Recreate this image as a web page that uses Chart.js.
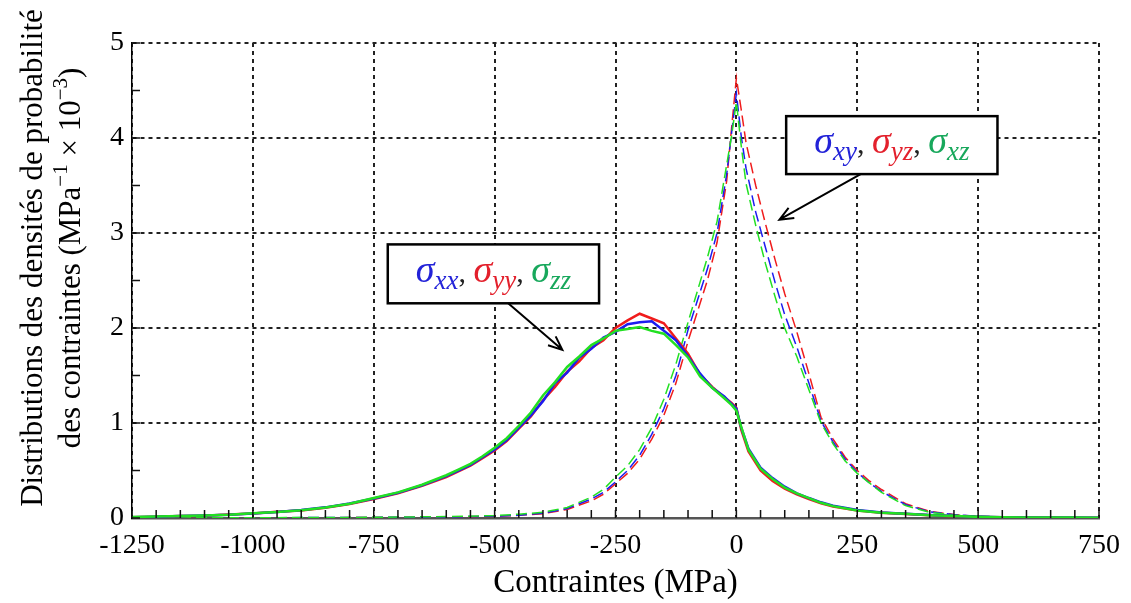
<!DOCTYPE html>
<html>
<head>
<meta charset="utf-8">
<script src="https://cdn.jsdelivr.net/npm/chart.js@4.4.1/dist/chart.umd.min.js"></script>
<style>
html, body { margin: 0; padding: 0; background: #fff; }
#wrap { width: 1131px; height: 603px; }
</style>
</head>
<body>
<div id="wrap"><canvas id="ourChart" width="1131" height="603"></canvas></div>
<script>
// contraintes normales (MPa) et densités (MPa^-1 x 10^-3)
const normalX = [-1250, -1200, -1150, -1100, -1050, -1000, -950, -900, -850, -800, -750, -700, -650, -600,
    -575, -550, -525, -500, -475, -450, -425, -400, -375, -350, -325, -300, -275, -250, -225, -200, -175, -150, -125, -100, -75, -50, -25,
    -10, 0, 10, 25, 50, 75, 100, 125, 150, 175, 200,
    250, 300, 350, 400, 450, 500, 550, 600, 650, 700, 750];
const sxx = [0.009, 0.014, 0.021, 0.026, 0.033, 0.048, 0.064, 0.084, 0.112, 0.152, 0.205, 0.265, 0.345, 0.44,
    0.5, 0.56, 0.64, 0.72, 0.82, 0.95, 1.08, 1.23, 1.42, 1.53, 1.69, 1.78, 1.9, 1.96, 2.04, 2.06, 2.07, 1.97, 1.87, 1.7, 1.52, 1.37, 1.28,
    1.2, 1.15, 0.95, 0.73, 0.53, 0.42, 0.33, 0.26, 0.21, 0.165, 0.13,
    0.085, 0.058, 0.046, 0.032, 0.021, 0.013, 0.009, 0.006, 0.005, 0.004, 0.003];
const syy = [0.008, 0.012, 0.02, 0.024, 0.036, 0.047, 0.066, 0.08, 0.108, 0.148, 0.2, 0.26, 0.34, 0.43,
    0.49, 0.55, 0.63, 0.71, 0.81, 0.94, 1.07, 1.24, 1.38, 1.54, 1.65, 1.79, 1.87, 2.0, 2.08, 2.15, 2.1, 2.05, 1.89, 1.73, 1.51, 1.38, 1.27,
    1.21, 1.16, 0.93, 0.7, 0.5, 0.39, 0.31, 0.25, 0.2, 0.155, 0.12,
    0.078, 0.054, 0.042, 0.029, 0.019, 0.011, 0.007, 0.005, 0.004, 0.003, 0.002];
const szz = [0.01, 0.016, 0.02, 0.027, 0.034, 0.05, 0.063, 0.082, 0.11, 0.15, 0.21, 0.27, 0.35, 0.45,
    0.51, 0.57, 0.65, 0.74, 0.84, 0.97, 1.11, 1.29, 1.43, 1.59, 1.7, 1.82, 1.89, 1.97, 1.99, 2.01, 1.97, 1.94, 1.82, 1.69, 1.49, 1.37, 1.26,
    1.19, 1.13, 0.96, 0.72, 0.52, 0.41, 0.32, 0.26, 0.21, 0.16, 0.125,
    0.08, 0.056, 0.044, 0.03, 0.02, 0.012, 0.008, 0.006, 0.005, 0.004, 0.003];

// contraintes de cisaillement
const shearX = [-1250, -1000, -800, -700, -600, -500, -450, -400, -350, -300, -275, -250, -225, -200,
    -175, -150, -125, -100, -80, -60, -40, -20, -10, 0,
    10, 20, 40, 60, 80, 100, 125, 150, 175, 200, 225, 250, 275, 300, 350, 400, 450, 500, 600, 750];
const sxy = [0, 0.003, 0.005, 0.008, 0.01, 0.02, 0.03, 0.05, 0.1, 0.2, 0.27, 0.38, 0.5, 0.66,
    0.88, 1.15, 1.5, 1.98, 2.3, 2.62, 3.0, 3.62, 4.05, 4.47,
    4.02, 3.68, 3.22, 2.85, 2.48, 2.14, 1.8, 1.42, 1.02, 0.8, 0.62, 0.48, 0.37, 0.28, 0.14, 0.065, 0.035, 0.018, 0.006, 0];
const syz = [0, 0.002, 0.004, 0.006, 0.01, 0.018, 0.028, 0.045, 0.09, 0.18, 0.25, 0.36, 0.47, 0.62,
    0.83, 1.08, 1.42, 1.86, 2.18, 2.5, 2.9, 3.55, 4.1, 4.63,
    4.3, 3.95, 3.5, 3.1, 2.72, 2.36, 1.96, 1.52, 1.06, 0.83, 0.64, 0.5, 0.39, 0.3, 0.15, 0.07, 0.036, 0.016, 0.005, 0];
const sxz = [0, 0.003, 0.006, 0.01, 0.015, 0.025, 0.04, 0.06, 0.11, 0.22, 0.3, 0.43, 0.55, 0.72,
    0.95, 1.25, 1.62, 2.06, 2.4, 2.74, 3.12, 3.72, 4.02, 4.38,
    3.92, 3.52, 3.08, 2.68, 2.33, 2.0, 1.7, 1.35, 1.0, 0.78, 0.6, 0.47, 0.37, 0.27, 0.13, 0.06, 0.03, 0.015, 0.005, 0];

const blue = '#1c1cf0';
const red = '#f01c1c';
const green = '#22e022';
const serif = "'Liberation Serif', 'Times New Roman', serif";

// étiquettes encadrées (coordonnées en unités des axes)
const labelBoxes = [
    { x0: -721, x1: -284, y0: 2.88, y1: 2.26, from: [-472, 2.26], to: [-360, 1.77],
      parts: [['xx', '#2323d8'], ['yy', '#e3202c'], ['zz', '#18a85c']] },
    { x0: 103, x1: 540, y0: 4.23, y1: 3.62, from: [257, 3.62], to: [89, 3.14],
      parts: [['xy', '#2323d8'], ['yz', '#e3202c'], ['xz', '#18a85c']] }
];

function pts(xs, ys) {
    return xs.map((x, i) => ({x: x, y: ys[i]}));
}

function drawRich(ctx, segs, cx, cy) {
    // segs: [texte, police, couleur, décalage vertical]
    let total = 0;
    segs.forEach(s => { ctx.font = s[1]; total += ctx.measureText(s[0]).width; });
    let x = cx - total / 2;
    segs.forEach(s => {
        ctx.font = s[1];
        ctx.fillStyle = s[2];
        ctx.fillText(s[0], x, cy + s[3]);
        x += ctx.measureText(s[0]).width;
    });
}

const decorPlugin = {
    id: 'decor',
    afterDraw(chart) {
        const ctx = chart.ctx;
        const xs = chart.scales.x, ys = chart.scales.y;
        const area = chart.chartArea;
        ctx.save();

        // petites graduations vers l'intérieur
        ctx.strokeStyle = '#111';
        ctx.lineWidth = 1.5;
        ctx.beginPath();
        xs.ticks.forEach(t => {
            const px = xs.getPixelForValue(t.value);
            ctx.moveTo(px, area.bottom);
            ctx.lineTo(px, area.bottom - 8);
        });
        ys.ticks.forEach(t => {
            const py = ys.getPixelForValue(t.value);
            ctx.moveTo(area.left, py);
            ctx.lineTo(area.left + 8, py);
        });
        ctx.stroke();

        // titre de l'axe y sur deux lignes
        ctx.save();
        ctx.translate(34, 258);
        ctx.rotate(-Math.PI / 2);
        ctx.textBaseline = 'middle';
        ctx.textAlign = 'left';
        const big = '31px ' + serif, small = '21px ' + serif;
        drawRich(ctx, [['Distributions des densités de probabilité', big, '#000', 0]], 0, 0);
        drawRich(ctx, [
            ['des contraintes (MPa', big, '#000', 0],
            ['\u22121', small, '#000', -11],
            [' \u00d7 10', big, '#000', 0],
            ['\u22123', small, '#000', -11],
            [')', big, '#000', 0]
        ], 0, 38);
        ctx.restore();

        // encadrés et flèches
        labelBoxes.forEach(b => {
            const l = xs.getPixelForValue(b.x0), r = xs.getPixelForValue(b.x1);
            const t = ys.getPixelForValue(b.y0), bt = ys.getPixelForValue(b.y1);
            ctx.fillStyle = '#fff';
            ctx.fillRect(l, t, r - l, bt - t);
            ctx.strokeStyle = '#000';
            ctx.lineWidth = 2.5;
            ctx.strokeRect(l, t, r - l, bt - t);

            const segs = [];
            b.parts.forEach((p, i) => {
                if (i > 0) segs.push([', ', '30px ' + serif, '#222', 0]);
                segs.push(['\u03c3', 'italic 38px ' + serif, p[1], 0]);
                segs.push([p[0], 'italic 27px ' + serif, p[1], 7]);
            });
            ctx.textBaseline = 'alphabetic';
            ctx.textAlign = 'left';
            drawRich(ctx, segs, (l + r) / 2, (t + bt) / 2 + 8);

            const fx = xs.getPixelForValue(b.from[0]), fy = ys.getPixelForValue(b.from[1]);
            const tx = xs.getPixelForValue(b.to[0]), ty = ys.getPixelForValue(b.to[1]);
            const ang = Math.atan2(ty - fy, tx - fx);
            ctx.lineWidth = 2;
            ctx.beginPath();
            ctx.moveTo(fx, fy);
            ctx.lineTo(tx, ty);
            ctx.moveTo(tx - 15 * Math.cos(ang - 0.4), ty - 15 * Math.sin(ang - 0.4));
            ctx.lineTo(tx, ty);
            ctx.lineTo(tx - 15 * Math.cos(ang + 0.4), ty - 15 * Math.sin(ang + 0.4));
            ctx.stroke();
        });
        ctx.restore();
    }
};

const solid = (label, xs, ys, color) => ({
    label: label, data: pts(xs, ys), borderColor: color, borderWidth: 2.5,
    pointRadius: 0, tension: 0, fill: false
});
const dashed = (label, xs, ys, color) => ({
    label: label, data: pts(xs, ys), borderColor: color, borderWidth: 1.5,
    borderDash: [11, 5], pointRadius: 0, tension: 0, fill: false
});

const chartElement = new Chart(document.getElementById('ourChart'), {
    type: 'line',
    data: {
        datasets: [
            solid('σzz', normalX, szz, green),
            solid('σxx', normalX, sxx, blue),
            solid('σyy', normalX, syy, red),
            dashed('σxz', shearX, sxz, green),
            dashed('σxy', shearX, sxy, blue),
            dashed('σyz', shearX, syz, red)
        ]
    },
    options: {
        responsive: false,
        animation: false,
        layout: { padding: { top: 43, right: 28, left: 0, bottom: 0 } },
        plugins: { legend: { display: false }, tooltip: { enabled: false } },
        scales: {
            x: {
                type: 'linear',
                min: -1250,
                max: 750,
                afterFit: s => { s.height = 85; },
                ticks: {
                    stepSize: 50,
                    autoSkip: false,
                    maxRotation: 0,
                    padding: 11,
                    color: '#000',
                    font: { family: serif, size: 28 },
                    callback: v => (v % 250 === 0 ? String(v) : '')
                },
                grid: {
                    color: c => (c.tick && c.tick.value % 250 === 0 ? '#222' : 'rgba(0,0,0,0)'),
                    lineWidth: 2,
                    drawTicks: false
                },
                border: { display: true, color: '#555', width: 2.5, dash: [4, 4] },
                title: {
                    display: true,
                    text: 'Contraintes (MPa)',
                    color: '#000',
                    font: { family: serif, size: 33 },
                    padding: { top: 0, bottom: 0 }
                }
            },
            y: {
                min: 0,
                max: 5,
                afterFit: s => { s.width = 132; },
                ticks: {
                    stepSize: 0.5,
                    padding: 8,
                    color: '#000',
                    font: { family: serif, size: 28 },
                    callback: v => (Number.isInteger(v) ? String(v) : '')
                },
                grid: {
                    color: c => (c.tick && Number.isInteger(c.tick.value) ? '#222' : 'rgba(0,0,0,0)'),
                    lineWidth: 2,
                    drawTicks: false
                },
                border: { display: true, color: '#000', width: 1.5, dash: [4, 4] }
            }
        }
    },
    plugins: [decorPlugin]
});
</script>
</body>
</html>
